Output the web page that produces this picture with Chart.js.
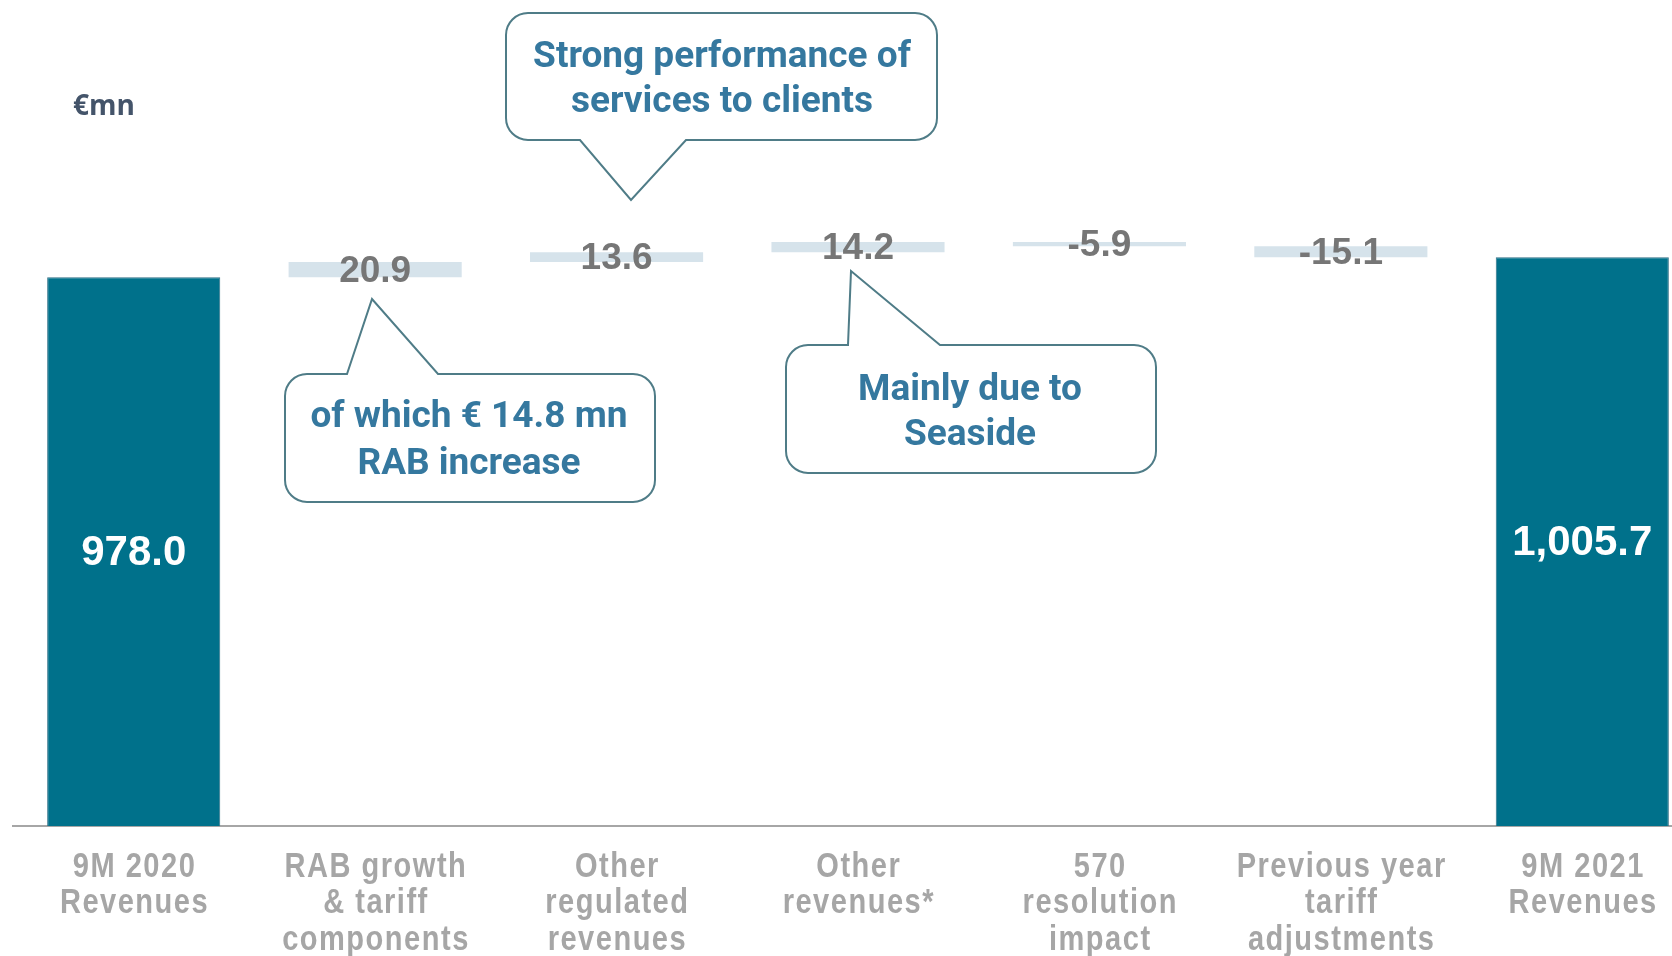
<!DOCTYPE html>
<html>
<head>
<meta charset="utf-8">
<script src="https://cdn.jsdelivr.net/npm/chart.js@4"></script>
<style>
  html, body { margin: 0; padding: 0; background: #fff; overflow: hidden; }
  #wrap { position: relative; width: 1672px; height: 956px; overflow: hidden; }
  canvas { position: absolute; left: 0; top: 0; }
</style>
</head>
<body>
<div id="wrap">
  <canvas id="chart" width="1710" height="956"></canvas>
</div>
<script>
// categories (multi-line tick labels)
const categories = [
  ['9M 2020', 'Revenues'],
  ['RAB growth', '& tariff', 'components'],
  ['Other', 'regulated', 'revenues'],
  ['Other', 'revenues*'],
  ['570', 'resolution', 'impact'],
  ['Previous year', 'tariff', 'adjustments'],
  ['9M 2021', 'Revenues']
];
// values in €mn
const values = [978.0, 20.9, 13.6, 14.2, -5.9, -15.1, 1005.7];
const isTotal = [true, false, false, false, false, false, true];

const unitLabel = '€mn';
const callouts = [
  { lines: ['Strong performance of', 'services to clients'] },
  { lines: ['of which € 14.8 mn', 'RAB increase'] },
  { lines: ['Mainly due to', 'Seaside'] }
];

const TEAL = '#00718B';
const LIGHT = '#D6E3EB';

// waterfall: floating bars built from the running total
let running = 0;
const floating = values.map((v, i) => {
  if (isTotal[i]) { running = v; return [0, v]; }
  const start = running;
  running += v;
  return [start, running];
});

const fmt = v => v.toLocaleString('en-US', { minimumFractionDigits: 1, maximumFractionDigits: 1 });

// draws a rounded box with a pointer on the top or bottom edge
function bubble(ctx, b) {
  const { x, y, w, h, r, side, t1, t2, tipX, tipY } = b;
  ctx.beginPath();
  ctx.moveTo(x + r, y);
  if (side === 'top') { ctx.lineTo(t1, y); ctx.lineTo(tipX, tipY); ctx.lineTo(t2, y); }
  ctx.lineTo(x + w - r, y);
  ctx.arcTo(x + w, y, x + w, y + r, r);
  ctx.lineTo(x + w, y + h - r);
  ctx.arcTo(x + w, y + h, x + w - r, y + h, r);
  if (side === 'bottom') { ctx.lineTo(t2, y + h); ctx.lineTo(tipX, tipY); ctx.lineTo(t1, y + h); }
  ctx.lineTo(x + r, y + h);
  ctx.arcTo(x, y + h, x, y + h - r, r);
  ctx.lineTo(x, y + r);
  ctx.arcTo(x, y, x + r, y, r);
  ctx.closePath();
  ctx.fillStyle = '#fff';
  ctx.fill();
  ctx.lineWidth = 2;
  ctx.strokeStyle = '#4F7C87';
  ctx.stroke();
}

// category labels drawn narrow (no condensed font installed)
const categoryPlugin = {
  id: 'catLabels',
  afterDraw(chart) {
    const ctx = chart.ctx;
    const xs = chart.scales.x;
    const squeeze = 0.83;
    ctx.save();
    ctx.font = 'bold 35px "Liberation Sans", Arial, sans-serif';
    ctx.fillStyle = '#A6A6A6';
    ctx.textAlign = 'center';
    ctx.textBaseline = 'middle';
    categories.forEach((lines, i) => {
      const px = xs.getPixelForTick(i);
      lines.forEach((ln, k) => {
        ctx.save();
        ctx.translate(px, xs.top + 41 + k * 36.7);
        ctx.scale(squeeze, 1);
        ctx.letterSpacing = '1.8px';
        ctx.fillText(ln, 1, 0);
        ctx.restore();
      });
    });
    ctx.restore();
  }
};

const labelsPlugin = {
  id: 'wfLabels',
  afterDatasetsDraw(chart) {
    const ctx = chart.ctx;
    const meta = chart.getDatasetMeta(0);
    ctx.save();
    ctx.textAlign = 'center';
    ctx.textBaseline = 'middle';
    meta.data.forEach((bar, i) => {
      const top = Math.max(bar.y, chart.chartArea.top);
      const bottom = Math.min(bar.base, chart.chartArea.bottom);
      const cy = (top + bottom) / 2;
      if (isTotal[i]) {
        ctx.font = 'bold 42px "Liberation Sans", Arial, sans-serif';
        ctx.fillStyle = '#ffffff';
      } else {
        ctx.font = 'bold 37px "Liberation Sans", Arial, sans-serif';
        ctx.fillStyle = '#767676';
      }
      ctx.fillText(fmt(values[i]), bar.x, cy + 2);
    });

    // unit label
    ctx.textAlign = 'left';
    ctx.font = 'bold 28px "Open Sans", sans-serif';
    ctx.fillStyle = '#44546A';
    ctx.fillText(unitLabel, 73, 107);

    // callouts
    const boxes = [
      { x: 506, y: 13, w: 431, h: 127, r: 22, side: 'bottom', t1: 580, t2: 686, tipX: 631, tipY: 200, cx: 722, ly: [58, 103] },
      { x: 285, y: 374, w: 370, h: 128, r: 22, side: 'top', t1: 347, t2: 438, tipX: 372, tipY: 299, cx: 469, ly: [418, 465] },
      { x: 786, y: 345, w: 370, h: 128, r: 22, side: 'top', t1: 848, t2: 940, tipX: 851, tipY: 271, cx: 970, ly: [391, 436] }
    ];
    boxes.forEach((b, i) => {
      bubble(ctx, b);
      ctx.textAlign = 'center';
      ctx.font = 'bold 37px Roboto, "Noto Sans", sans-serif';
      ctx.fillStyle = '#35789F';
      callouts[i].lines.forEach((ln, k) => ctx.fillText(ln, b.cx, b.ly[k]));
    });
    ctx.restore();
  }
};

new Chart(document.getElementById('chart'), {
  type: 'bar',
  data: {
    labels: categories.map(c => c.join(' ')),
    datasets: [{
      data: floating,
      backgroundColor: isTotal.map(t => t ? TEAL : LIGHT),
      borderColor: isTotal.map(t => t ? '#2E6F86' : LIGHT),
      borderWidth: isTotal.map(t => t ? 1 : 0),
      borderSkipped: false,
      barPercentage: 0.717,
      categoryPercentage: 1.0
    }]
  },
  options: {
    responsive: false,
    animation: false,
    layout: { padding: { left: 13, right: 7, top: 0, bottom: 0 } },
    plugins: { legend: { display: false }, tooltip: { enabled: false } },
    scales: {
      x: {
        grid: { display: false, drawTicks: false },
        border: { display: true, color: '#A6A6A6', width: 2 },
        ticks: { display: false },
        afterFit(scale) { scale.height = 130; }
      },
      y: {
        display: false,
        min: 222,
        max: 1360
      }
    }
  },
  plugins: [labelsPlugin, categoryPlugin]
});
</script>
</body>
</html>
